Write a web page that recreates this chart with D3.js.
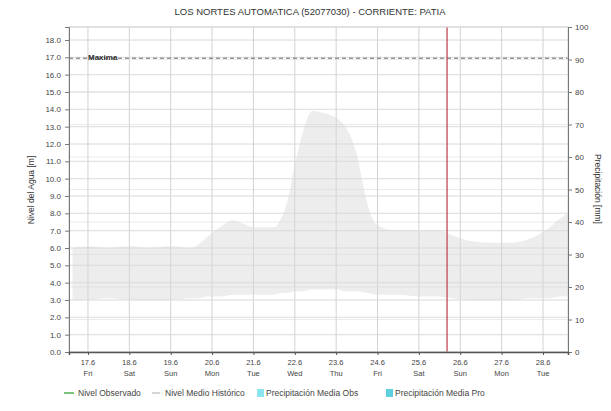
<!DOCTYPE html>
<html><head><meta charset="utf-8">
<script src="https://cdn.jsdelivr.net/npm/d3@7"></script>
<style>
body{margin:0;background:#fff;}
svg{font-family:"Liberation Sans",Arial,sans-serif;}
</style></head>
<body><svg id="c" width="611" height="411"></svg>
<script>
const title = "LOS NORTES AUTOMATICA (52077030) - CORRIENTE: PATIA";
const bandDates = ["2022-06-16T15:00","2022-06-17T00:00","2022-06-17T12:00","2022-06-18T00:00","2022-06-18T12:00","2022-06-19T00:00","2022-06-19T12:00","2022-06-19T16:00","2022-06-19T22:00","2022-06-20T06:00","2022-06-20T12:00","2022-06-20T18:00","2022-06-21T00:00","2022-06-21T12:00","2022-06-21T16:00","2022-06-21T20:00","2022-06-22T00:00","2022-06-22T05:00","2022-06-22T10:00","2022-06-22T16:00","2022-06-23T00:00","2022-06-23T06:00","2022-06-23T12:00","2022-06-23T18:00","2022-06-24T00:00","2022-06-24T12:00","2022-06-25T00:00","2022-06-25T12:00","2022-06-25T20:00","2022-06-26T06:00","2022-06-26T18:00","2022-06-27T06:00","2022-06-27T18:00","2022-06-28T04:00","2022-06-28T10:00","2022-06-28T14:30"];
const bandHigh = [6.0,6.1,6.0,6.1,6.0,6.1,6.0,6.2,6.7,7.3,7.6,7.4,7.2,7.2,7.7,8.8,10.8,12.8,13.9,13.8,13.5,12.9,11.4,8.6,7.3,7.0,7.0,7.0,6.7,6.4,6.3,6.3,6.6,7.2,7.7,8.0];
const bandLow  = [3.0,3.0,3.1,3.0,3.0,3.0,3.1,3.1,3.2,3.2,3.3,3.3,3.3,3.3,3.4,3.4,3.5,3.5,3.6,3.6,3.6,3.5,3.5,3.4,3.3,3.3,3.2,3.2,3.1,3.0,3.0,3.0,3.1,3.1,3.2,3.2];
const xDomain = ["2022-06-16T13:00","2022-06-28T14:30"];
const xTickDates = ["2022-06-17","2022-06-18","2022-06-19","2022-06-20","2022-06-21","2022-06-22","2022-06-23","2022-06-24","2022-06-25","2022-06-26","2022-06-27","2022-06-28"];
const xTickDays = ["Fri","Sat","Sun","Mon","Tue","Wed","Thu","Fri","Sat","Sun","Mon","Tue"];
const levelTicks = [0,1,2,3,4,5,6,7,8,9,10,11,12,13,14,15,16,17,18];
const precipTicks = [0,10,20,30,40,50,60,70,80,90,100];
const maxLevel = 16.95;
const nowDate = "2022-06-25T16:20";
const legendItems = ["Nivel Observado","Nivel Medio Histórico","Precipitación Media Obs","Precipitación Media Pro"];

const parse = d3.isoParse;
const svg = d3.select("#c");
const L = 69, R = 568, T = 27, B = 352;
const x = d3.scaleTime().domain(xDomain.map(parse)).range([L, R]);
const y = d3.scaleLinear().domain([0, 18.75]).range([B, T]);
const y2 = d3.scaleLinear().domain([0, 100]).range([B, T]);

// gridlines
const g = svg.append("g");
g.selectAll(".gl").data(levelTicks).join("line")
  .attr("x1", L).attr("x2", R).attr("y1", d => y(d)).attr("y2", d => y(d))
  .attr("stroke", "#e0e0e0").attr("stroke-width", 1);
g.selectAll(".gr").data(precipTicks).join("line")
  .attr("x1", L).attr("x2", R).attr("y1", d => y2(d)).attr("y2", d => y2(d))
  .attr("stroke", "#ebebeb").attr("stroke-width", 1);
g.selectAll(".gv").data(xTickDates).join("line")
  .attr("x1", d => x(parse(d))).attr("x2", d => x(parse(d))).attr("y1", T).attr("y2", B)
  .attr("stroke", "#d2d2d2").attr("stroke-width", 1);

// band
const band = bandDates.map((d, i) => ({t: parse(d), hi: bandHigh[i], lo: bandLow[i]}));
svg.append("path").datum(band)
  .attr("d", d3.area().x(d => x(d.t)).y0(d => y(d.lo)).y1(d => y(d.hi)).curve(d3.curveMonotoneX))
  .attr("fill", "#d8d8d8").attr("fill-opacity", 0.45);

// gridlines faintly on top
svg.append("g").selectAll("line").data(levelTicks).join("line")
  .attr("x1", L).attr("x2", R).attr("y1", d => y(d)).attr("y2", d => y(d))
  .attr("stroke", "#e0e0e0").attr("stroke-opacity", 0.5);

// max line
svg.append("line").attr("x1", L).attr("x2", R).attr("y1", y(maxLevel)).attr("y2", y(maxLevel))
  .attr("stroke", "#666").attr("stroke-dasharray", "4,3").attr("stroke-width", 1);
svg.append("text").attr("x", L + 19).attr("y", y(maxLevel) + 1.5).text("Maxima")
  .attr("font-size", 8).attr("font-weight", "bold").attr("fill", "#333");

// now line
svg.append("line").attr("x1", x(parse(nowDate))).attr("x2", x(parse(nowDate))).attr("y1", T).attr("y2", B)
  .attr("stroke", "#c0394a").attr("stroke-width", 1.2);

// frame
svg.append("rect").attr("x", L).attr("y", T).attr("width", R - L).attr("height", B - T)
  .attr("fill", "none").attr("stroke", "#d0d0d0");

// axes
const fmt = d3.format(".1f");
const ax = svg.append("g").attr("transform", `translate(${L},0)`)
  .call(d3.axisLeft(y).tickValues(levelTicks).tickFormat(fmt).tickSize(4).tickPadding(4));
ax.selectAll("text").attr("font-size", 8).attr("fill", "#444");
ax.select(".domain").attr("stroke", "#777");
ax.selectAll(".tick line").attr("stroke", "#777");

const ar = svg.append("g").attr("transform", `translate(${R},0)`)
  .call(d3.axisRight(y2).tickValues(precipTicks).tickSize(4).tickPadding(3));
ar.selectAll("text").attr("font-size", 8).attr("fill", "#444");
ar.select(".domain").attr("stroke", "#777");
ar.selectAll(".tick line").attr("stroke", "#777");

const abx = svg.append("g").attr("transform", `translate(0,${B})`)
  .call(d3.axisBottom(x).tickValues(xTickDates.map(parse)).tickSize(3).tickFormat(""));
abx.select(".domain").attr("stroke", "#555").attr("stroke-width", 1.5);
abx.selectAll(".tick line").attr("stroke", "#555");
const lab = svg.append("g").selectAll("g").data(xTickDates).join("g")
  .attr("transform", d => `translate(${x(parse(d))},0)`);
lab.append("text").attr("y", B + 13).attr("text-anchor", "middle").attr("font-size", 7.5).attr("fill", "#444")
  .text(d => { const t = parse(d); return t.getDate() + "." + (t.getMonth() + 1); });
lab.append("text").attr("y", B + 24).attr("text-anchor", "middle").attr("font-size", 7.5).attr("fill", "#444")
  .text((d, i) => xTickDays[i]);

// axis titles
svg.append("text").attr("transform", `translate(34,190) rotate(-90)`).attr("text-anchor", "middle")
  .attr("font-size", 8.5).attr("fill", "#333").text("Nivel del Agua [m]");
svg.append("text").attr("transform", `translate(595,189) rotate(90)`).attr("text-anchor", "middle")
  .attr("font-size", 8.5).attr("fill", "#333").text("Precipitación [mm]");

// title
svg.append("text").attr("x", 310).attr("y", 15).attr("text-anchor", "middle")
  .attr("font-size", 9.5).attr("fill", "#333").text(title);

// legend
const lg = svg.append("g").attr("font-size", 8.5).attr("fill", "#444");
const lx = [64, 152, 257, 386];
lg.append("line").attr("x1", lx[0]).attr("x2", lx[0] + 10).attr("y1", 393).attr("y2", 393).attr("stroke", "#4caf50").attr("stroke-width", 1.5);
lg.append("line").attr("x1", lx[1]).attr("x2", lx[1] + 8).attr("y1", 393).attr("y2", 393).attr("stroke", "#c8c8c8").attr("stroke-width", 1.5);
lg.append("rect").attr("x", lx[2]).attr("y", 389).attr("width", 7).attr("height", 8).attr("fill", "#8ce4ee");
lg.append("rect").attr("x", lx[3]).attr("y", 389).attr("width", 7).attr("height", 8).attr("fill", "#5cd0de");
const tx = [78, 165, 266, 395];
lg.selectAll("text").data(legendItems).join("text").attr("x", (d, i) => tx[i]).attr("y", 396).text(d => d);
</script></body></html>
